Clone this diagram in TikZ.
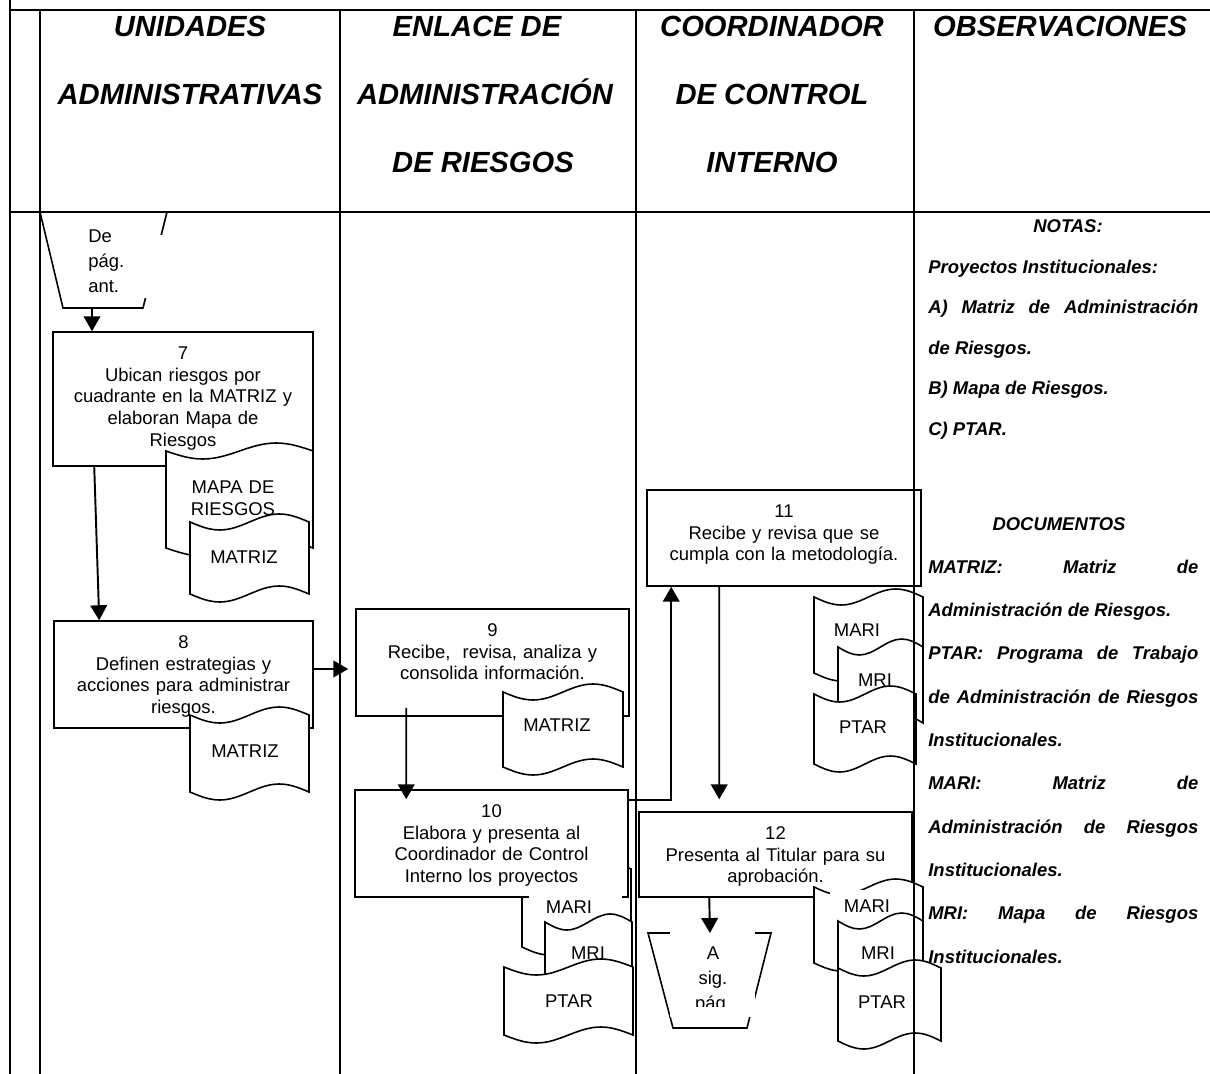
\documentclass[tikz,border=0pt]{standalone}
\usepackage{fontspec}
\setmainfont{Liberation Sans}
\usetikzlibrary{arrows.meta}

\newcommand\hdrfnt{\fontsize{16.6}{20}\selectfont\bfseries\itshape}
\newcommand\boxfnt{\fontsize{10.5}{12.4}\selectfont}
\newcommand\notefnt{\fontsize{10.5}{12}\selectfont\bfseries\itshape}
\newcommand\connfnt{\fontsize{10.5}{14.2}\selectfont}

% punched-tape document symbol: \tape{left x}{top y}{width}{height}
\newcommand\tape[4]{%
  \draw[tapeline] (#1,#2) sin ++(#3/4,8) cos ++(#3/4,-8) sin ++(#3/4,-8) cos ++(#3/4,8)
    -- ++(0,#4) sin ++(-#3/4,-8) cos ++(-#3/4,8) sin ++(-#3/4,8) cos ++(-#3/4,-8) -- cycle;}

\begin{document}
\begin{tikzpicture}[x=0.02cm,y=-0.02cm,
  frame/.style={line width=1.2pt},
  procbox/.style={draw, line width=0.9pt, fill=white, rectangle, inner sep=0pt},
  boxtxt/.style={font=\boxfnt, align=center, text width=4.9cm, inner sep=0pt, anchor=base},
  tapeline/.style={draw, fill=white, line width=0.9pt},
  doctxt/.style={font=\boxfnt, inner sep=0pt, anchor=base},
  arr/.style={line width=1.1pt, -{Triangle[length=8.5pt,width=9.5pt]}},
  notetxt/.style={font=\notefnt, inner sep=0pt, anchor=base west},
  hdr/.style={font=\hdrfnt, inner sep=0pt, anchor=base},
  conn/.style={draw, line width=0.9pt},
  conntxt/.style={font=\connfnt, inner sep=0pt, text width=1.6cm}]

\useasboundingbox (0,0) rectangle (1210,1074);
\fill[white] (0,0) rectangle (1210,1074);

% ---- column headings
\node[hdr] (h1a) at (190,37)  {UNIDADES};
\node[hdr] (h1b) at (190,105) {ADMINISTRATIVAS};
\node[hdr] (h2a) at (477,37)  {ENLACE DE};
\node[hdr] (h2b) at (485,105) {ADMINISTRACIÓN};
\node[hdr] (h2c) at (483,173) {DE RIESGOS};
\node[hdr] (h3a) at (772,37)  {COORDINADOR};
\node[hdr] (h3b) at (772,105) {DE CONTROL};
\node[hdr] (h3c) at (772,173) {INTERNO};
\node[hdr] (h4a) at (1060,37) {OBSERVACIONES};

% ---- observations column
\node[notetxt, anchor=base] (n0) at (1068,233) {NOTAS:};
\node[notetxt] (n1) at (928,273.4) {Proyectos Institucionales:};
\node[notetxt] (n2) at (928,313.8) {\makebox[5.4cm][s]{A) Matriz de Administración}};
\node[notetxt] (n3) at (928,354.2) {de Riesgos.};
\node[notetxt] (n4) at (928,394.6) {B) Mapa de Riesgos.};
\node[notetxt] (n5) at (928,435) {C) PTAR.};
\node[notetxt, anchor=base] (d0) at (1059,530) {DOCUMENTOS};
\node[notetxt] (d1) at (928,573.3) {\makebox[5.4cm][s]{MATRIZ: Matriz de}};
\node[notetxt] (d2) at (928,616.6) {Administración de Riesgos.};
\node[notetxt] (d3) at (928,659.9) {\makebox[5.4cm][s]{PTAR: Programa de Trabajo}};
\node[notetxt] (d4) at (928,703.2) {\makebox[5.4cm][s]{de Administración de Riesgos}};
\node[notetxt] (d5) at (928,746.5) {Institucionales.};
\node[notetxt] (d6) at (928,789.8) {\makebox[5.4cm][s]{MARI: Matriz de}};
\node[notetxt] (d7) at (928,833.1) {\makebox[5.4cm][s]{Administración de Riesgos}};
\node[notetxt] (d8) at (928,876.4) {Institucionales.};
\node[notetxt] (d9) at (928,919.7) {\makebox[5.4cm][s]{MRI: Mapa de Riesgos}};
\node[notetxt] (d10) at (928,963) {Institucionales.};

% ---- incoming off-page connector
\draw[conn] (40,212) -- (167,212) -- (143,308) -- (63,308) -- cycle;
\fill[white] (80,235) rectangle (163,298);
\node[conntxt, anchor=base west, align=left] (dpt) at (88,243) {De\\pág.\\ant.};
\coordinate (dpa) at (92,308);

% ---- step 7
\node[procbox, minimum width=5.2cm, minimum height=2.68cm] (b7) at (183,399) {};
\node[boxtxt] (t7) at ([yshift=-0.56cm]b7.north) {7\\Ubican riesgos por\\cuadrante en la MATRIZ y\\elaboran Mapa de\\Riesgos};
\tape{166}{451}{147}{97}
\node[doctxt, align=center, text width=2.6cm] (m7a) at (233,493.5) {MAPA DE\\RIESGOS};
\tape{190}{522}{119}{72}
\node[doctxt] (m7b) at (244,563.5) {MATRIZ};

% ---- step 8
\node[procbox, minimum width=5.18cm, minimum height=2.14cm] (b8) at (183.5,674.5) {};
\node[boxtxt] (t8) at ([yshift=-0.56cm]b8.north) {8\\Definen estrategias y\\acciones para administrar\\riesgos.};
\tape{190}{715}{119}{77}
\node[doctxt] (m8) at (245,757.5) {MATRIZ};

% ---- step 9
\node[procbox, minimum width=5.46cm, minimum height=2.14cm] (b9) at (492.5,662.5) {};
\node[boxtxt] (t9) at ([yshift=-0.56cm]b9.north) {9\\Recibe,~ revisa, analiza y\\consolida información.};
\tape{503}{692}{120}{75}
\node[doctxt] (m9) at (557,731.5) {MATRIZ};

% ---- step 10 with its three documents
\tape{522}{869}{109}{78}
\node[procbox, minimum width=5.46cm, minimum height=2.14cm] (b10) at (491.5,843.5) {};
\node[boxtxt] (t10) at ([yshift=-0.56cm]b10.north) {10\\Elabora y presenta al\\Coordinador de Control\\Interno los proyectos};
\fill[white] (529,892) rectangle (622,918);
\node[doctxt] (m10a) at (569,913.5) {MARI};
\tape{545}{922}{87}{76}
\node[doctxt] (m10b) at (588,959.5) {MRI};
\tape{504}{967}{129}{68}
\node[doctxt] (m10c) at (569,1007.5) {PTAR};

% ---- step 11 with its three documents
\node[procbox, minimum width=5.48cm, minimum height=1.92cm] (b11) at (784,538) {};
\node[boxtxt] (t11) at ([yshift=-0.56cm]b11.north) {11\\Recibe y revisa que se\\cumpla con la metodología.};
\tape{814}{597}{109}{76}
\node[doctxt] (m11a) at (857,636.5) {MARI};
\tape{838}{647}{85}{76}
\node[doctxt] (m11b) at (875,686.5) {MRI};
\tape{814}{694}{102}{70}
\node[doctxt] (m11c) at (863,733.5) {PTAR};

% ---- step 12 with its three documents
\node[procbox, minimum width=5.46cm, minimum height=1.7cm] (b12) at (775.5,854.5) {};
\node[boxtxt] (t12) at ([yshift=-0.56cm]b12.north) {12\\Presenta al Titular para su\\aprobación.};
\tape{814}{887}{109}{76}
\fill[white] (830,890) rectangle (905,925);
\node[doctxt] (m12a) at (867,912.5) {MARI};
\tape{838}{921}{85}{76}
\node[doctxt] (m12b) at (878,959.5) {MRI};
\tape{838}{968}{103}{73}
\node[doctxt] (m12c) at (882,1008.5) {PTAR};

% ---- outgoing off-page connector
\draw[conn] (648,933) -- (771,933) -- (747,1028) -- (673,1028) -- cycle;
\fill[white] (670,929) rectangle (755,1017);
\begin{scope}
  \clip (670,929) rectangle (755,1006);
  \node[conntxt, anchor=base, align=center] (asp) at (713,959.5) {A\\sig.\\pág.};
\end{scope}
\coordinate (aspin) at (710,933);

% ---- flow connectors
\draw[arr] (dpa) -- (dpa |- b7.north);
\draw[arr] ([xshift=0.84cm]b7.south west) -- ([xshift=0.92cm]b8.north west);
\draw[arr] (b8.east |- 0,669) -- ([xshift=-0.14cm]b9.west |- 0,669);
\draw[arr] ([xshift=1.02cm,yshift=0.18cm]b9.south west) -- ([xshift=1.04cm,yshift=-0.2cm]b10.north west);
\draw[arr] ([yshift=-0.22cm]b10.north east) -| ([xshift=0.5cm]b11.south west);
\draw[arr] ([xshift=1.46cm]b11.south west) -- ([xshift=1.62cm,yshift=0.24cm]b12.north west);
\draw[arr] ([xshift=1.42cm]b12.south west) -- (aspin);

% ---- table frame
\draw[frame] (10,0) -- (10,1074);
\draw[frame] (10,10) -- (1210,10);
\draw[frame] (10,212) -- (1210,212);
\foreach \x in {40,340,636,914} \draw[frame] (\x,10) -- (\x,1074);
\end{tikzpicture}
\end{document}
